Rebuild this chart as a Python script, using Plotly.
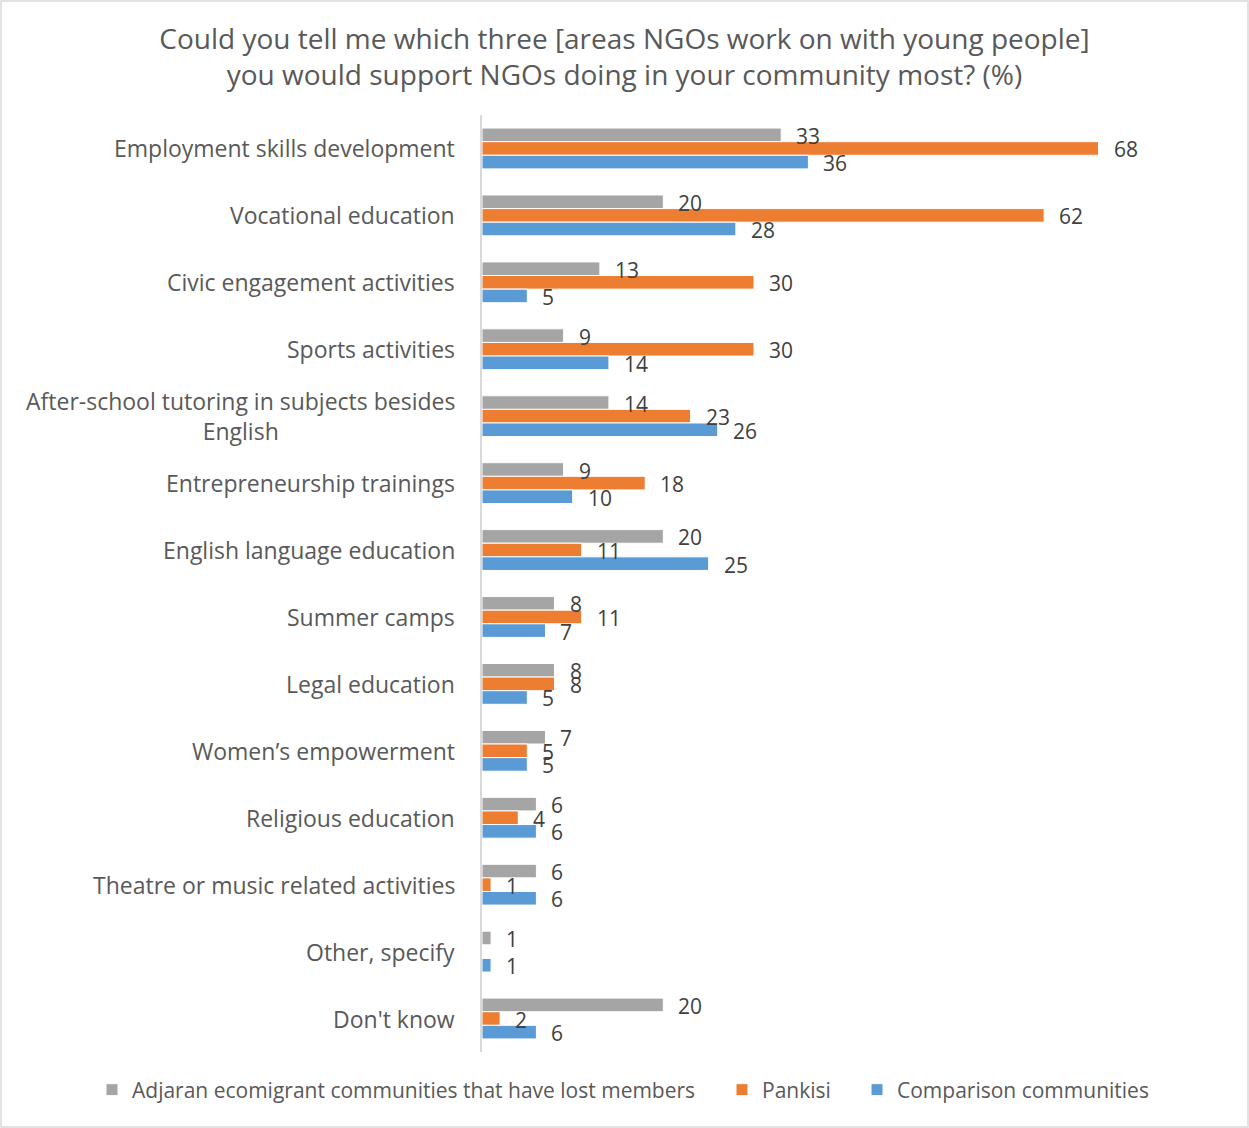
import plotly.graph_objects as go

# Survey results: share of respondents (%) supporting each NGO activity area
categories = [
    "Employment skills development",
    "Vocational education",
    "Civic engagement activities",
    "Sports activities",
    "After-school tutoring in subjects besides<br>English",
    "Entrepreneurship trainings",
    "English language education",
    "Summer camps",
    "Legal education",
    "Women’s empowerment",
    "Religious education",
    "Theatre or music related activities",
    "Other, specify",
    "Don't know",
]
adjaran = [33, 20, 13, 9, 14, 9, 20, 8, 8, 7, 6, 6, 1, 20]
pankisi = [68, 62, 30, 30, 23, 18, 11, 11, 8, 5, 4, 1, None, 2]
comparison = [36, 28, 5, 14, 26, 10, 25, 7, 5, 5, 6, 6, 1, 6]

series = [
    ("Adjaran ecomigrant communities that have lost members", adjaran, "#a5a5a5"),
    ("Pankisi", pankisi, "#ed7d31"),
    ("Comparison communities", comparison, "#5b9bd5"),
]

W, H = 1249, 1128
ML, MR, MT, MB = 482, 87, 115, 76
XMAX = 75
FONT = "Open Sans"
LABEL_GREY = "#595959"

fig = go.Figure()
legend_ids = ["legend", "legend2", "legend3"]
legend_text_x = [132, 762, 897]  # left edge of each legend entry's text
for (name, vals, color), lid in zip(series, legend_ids):
    fig.add_trace(go.Bar(
        y=categories, x=vals, name=name, orientation="h", legend=lid,
        marker=dict(color=color, line=dict(color="white", width=1)),
    ))

# value labels sit just right of each bar end
n_cat = len(categories)
plot_h = H - MT - MB
band = plot_h / n_cat
bargap = 0.39
bar_h = band * (1 - bargap) / 3
for i, (name, vals, color) in enumerate(series):
    dy = (1 - i) * bar_h  # trace 0 on top within the reversed axis
    for cat, v in zip(categories, vals):
        if v is None:
            continue
        fig.add_annotation(
            x=v, y=cat, xref="x", yref="y", text=str(v), showarrow=False,
            xanchor="left", yanchor="middle", xshift=13, yshift=dy - 1,
            font=dict(family=FONT, size=21, color="#404040"),
        )

# category labels, centre-aligned when they wrap onto two lines
for cat in categories:
    fig.add_annotation(
        x=0, y=cat, xref="paper", yref="y", text=cat, showarrow=False,
        xanchor="right", yanchor="middle", align="center", xshift=-25,
        font=dict(family=FONT, size=23, color=LABEL_GREY),
    )

# thin frame around the whole figure
pw = W - ML - MR
fig.add_shape(
    type="rect", xref="paper", yref="paper",
    x0=-(ML - 1) / pw, x1=1 + (MR - 1) / pw,
    y0=-(MB - 1) / plot_h, y1=1 + (MT - 1) / plot_h,
    line=dict(color="#d9d9d9", width=1.5), fillcolor="rgba(0,0,0,0)", layer="below",
)

legend_common = dict(
    orientation="h", xanchor="left", xref="container",
    y=1 - 1090 / H, yanchor="middle", yref="container",
    font=dict(family=FONT, size=21, color=LABEL_GREY),
    bgcolor="rgba(0,0,0,0)", borderwidth=0,
)
legends = {lid: dict(legend_common, x=(tx - 40) / W)
           for lid, tx in zip(legend_ids, legend_text_x)}

fig.update_layout(
    width=W, height=H,
    margin=dict(l=ML, r=MR, t=MT, b=MB, pad=0, autoexpand=False),
    paper_bgcolor="white", plot_bgcolor="white",
    barmode="group", bargap=bargap, bargroupgap=0,
    title=dict(
        text="Could you tell me which three [areas NGOs work on with young people]<br>"
             "you would support NGOs doing in your community most? (%)",
        x=0.5, xanchor="center", xref="container",
        y=1 - 49 / H, yanchor="top", yref="container",
        font=dict(family=FONT, size=28, color=LABEL_GREY),
    ),
    xaxis=dict(range=[0, XMAX], showgrid=False, zeroline=False,
               showticklabels=False, showline=False, ticks=""),
    yaxis=dict(autorange="reversed", showgrid=False, zeroline=False,
               showline=True, linecolor="#d9d9d9", linewidth=2,
               ticks="", showticklabels=False),
    showlegend=True,
    **legends,
)

fig.write_html("out.html")
